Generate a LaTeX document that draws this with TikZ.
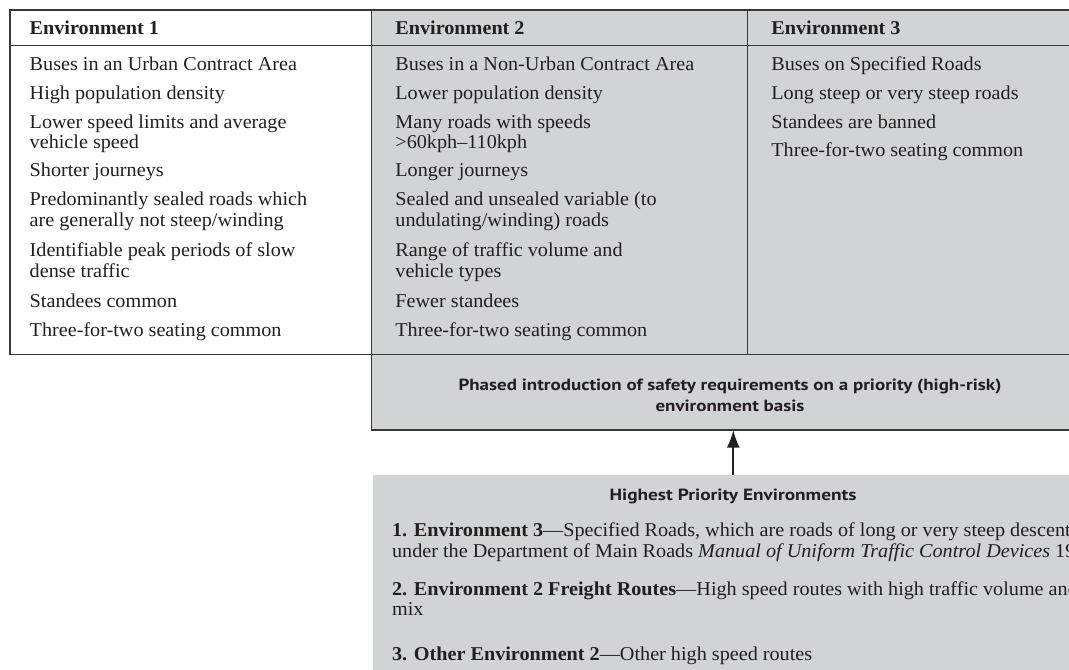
\documentclass[tikz,border=0pt]{standalone}
\usepackage{fontspec}
\setmainfont{Liberation Serif}[FakeStretch=1.03]
\newfontfamily\hsans{PT Sans}
\usepackage{graphicx}
\usetikzlibrary{arrows.meta}
\definecolor{cellgray}{RGB}{210,211,213}
\definecolor{ink}{RGB}{35,31,32}
\definecolor{rulec}{RGB}{55,55,55}
\begin{document}
\begin{tikzpicture}[x=0.5pt,y=-0.5pt,
  font=\fontsize{9.8}{10.5}\selectfont,
  txt/.style={anchor=base west, inner sep=0pt, text=ink},
  ctr/.style={anchor=base, inner sep=0pt, text=ink},
  rulel/.style={draw=rulec, line width=0.6pt},
  arr/.style={draw=ink, line width=1pt, -{Latex[length=8.8pt,width=6.5pt]}}]
\useasboundingbox (0,0) rectangle (1069,669);
\clip (0,0) rectangle (1069,669);
% fills
\fill[cellgray] (371.7,10) rectangle (1090,430);
\fill[cellgray] (373,475) rectangle (1090,690);
% table rules
\draw[rulel] (1090,10) -- (10,10) -- (10,354.3) -- (1090,354.3);
\draw[rulel] (10,45.5) -- (1090,45.5);
\draw[rulel] (371.7,10) -- (371.7,430) -- (1090,430);
\draw[rulel] (747.3,10) -- (747.3,354.3);
% headers
\node[txt] (h1) at (29.3,34.3) {\textbf{Environment 1}};
\node[txt] (h2) at (395,34.3) {\textbf{Environment 2}};
\node[txt] (h3) at (771,34.3) {\textbf{Environment 3}};
% environment 1
\node[txt] (a1) at (29.3,70.7) {Buses in an Urban Contract Area};
\node[txt] (a2) at (29.3,99.3) {High population density};
\node[txt] (a3) at (29.3,128.3) {Lower speed limits and average};
\node[txt] (a3b) at (29.3,148.3) {vehicle speed};
\node[txt] (a4) at (29.3,176.7) {Shorter journeys};
\node[txt] (a5) at (29.3,205.7) {Predominantly sealed roads which};
\node[txt] (a5b) at (29.3,226.7) {are generally not steep/winding};
\node[txt] (a6) at (29.3,256.7) {Identifiable peak periods of slow};
\node[txt] (a6b) at (29.3,277.7) {dense traffic};
\node[txt] (a7) at (29.3,307.3) {Standees common};
\node[txt] (a8) at (29.3,336.7) {Three-for-two seating common};
% environment 2
\node[txt] (b1) at (395,70.7) {Buses in a Non-Urban Contract Area};
\node[txt] (b2) at (395,99.3) {Lower population density};
\node[txt] (b3) at (395,128.3) {Many roads with speeds};
\node[txt] (b3b) at (395,148.3) {>60kph--110kph};
\node[txt] (b4) at (395,176.7) {Longer journeys};
\node[txt] (b5) at (395,205.7) {Sealed and unsealed variable (to};
\node[txt] (b5b) at (395,226.7) {undulating/winding) roads};
\node[txt] (b6) at (395,256.7) {Range of traffic volume and};
\node[txt] (b6b) at (395,277.7) {vehicle types};
\node[txt] (b7) at (395,307.3) {Fewer standees};
\node[txt] (b8) at (395,336.7) {Three-for-two seating common};
% environment 3
\node[txt] (c1) at (771,70.7) {Buses on Specified Roads};
\node[txt] (c2) at (771,99.3) {Long steep or very steep roads};
\node[txt] (c3) at (771,128.3) {Standees are banned};
\node[txt] (c4) at (771,156.7) {Three-for-two seating common};
% phased box text
\node[ctr] (ph) at (730,390.7) {\resizebox{271.5pt}{\height}{\hsans\bfseries\fontsize{8.1}{10.5}\selectfont\begin{tabular}[t]{@{}c@{}}Phased introduction of safety requirements on a priority (high-risk)\\ environment basis\end{tabular}}};
\coordinate (phS) at (733.3,430);
% priority box
\node[ctr] (hp) at (733,500) {\resizebox{123.5pt}{\height}{\hsans\bfseries\fontsize{8.1}{10}\selectfont Highest Priority Environments}};
\coordinate (hpN) at (733.3,475);
\node[txt] (p1) at (391.7,536.7) {\textbf{1. Environment 3}---Specified Roads, which are roads of long or very steep descent};
\node[txt] (p1b) at (391.7,557.3) {under the Department of Main Roads \textit{Manual of Uniform Traffic Control Devices} 1995};
\node[txt] (p2) at (391.7,595) {\textbf{2. Environment 2 Freight Routes}---High speed routes with high traffic volume and};
\node[txt] (p2b) at (391.7,615.7) {mix};
\node[txt] (p3) at (391.7,660) {\textbf{3. Other Environment 2}---Other high speed routes};
% arrow
\draw[arr] (hpN) -- (phS);
\end{tikzpicture}
\end{document}
